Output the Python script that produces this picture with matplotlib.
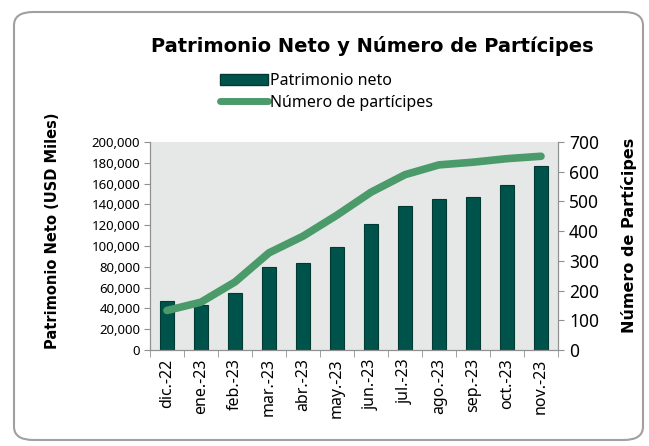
import matplotlib
matplotlib.use("Agg")
import matplotlib.pyplot as plt
from matplotlib.patches import FancyBboxPatch
from matplotlib.ticker import FuncFormatter, MultipleLocator
from matplotlib.lines import Line2D
from matplotlib.patches import Patch
import numpy as np

categories = ["dic.-22", "ene.-23", "feb.-23", "mar.-23", "abr.-23", "may.-23",
              "jun.-23", "jul.-23", "ago.-23", "sep.-23", "oct.-23", "nov.-23"]
patrimonio = [47000, 43200, 55000, 80200, 83700, 99500, 120800, 138800, 145600, 147500, 158500, 176500]
participes = [133, 161, 229, 327, 383, 454, 531, 590, 623, 632, 644, 652]

bar_color = "#00534a"
line_color = "#4a9a6a"
font = "Noto Sans"
bold_font = "DejaVu Sans"

fig = plt.figure(figsize=(6.49, 4.46), dpi=100)
fig.patch.set_facecolor("white")

border = FancyBboxPatch((14/649, 6/446), 629/649, 428/446,
                        boxstyle="round,pad=0,rounding_size=0.03",
                        transform=fig.transFigure, facecolor="none",
                        edgecolor="#a0a0a0", linewidth=1.5, zorder=-10)
fig.patches.append(border)

ax = fig.add_axes([150/649, 1 - 350/446, 408/649, 208/446])
ax.set_facecolor("#e6e8e7")
x = np.arange(len(categories))
ax.bar(x, patrimonio, width=0.43, color=bar_color, edgecolor="#003a33", linewidth=0.8, zorder=2)
ax.set_xlim(-0.5, len(categories) - 0.5)
ax.set_ylim(0, 200000)
ax.yaxis.set_major_locator(MultipleLocator(20000))
ax.yaxis.set_major_formatter(FuncFormatter(lambda v, p: f"{int(v):,}"))
ax.set_xticks(x)
ax.set_xticklabels(categories, rotation=90, fontsize=11.5, family=font)
ax.tick_params(axis="x", length=0, pad=6)
ax.set_xticks(np.arange(-0.5, len(categories)), minor=True)
ax.tick_params(axis="x", which="minor", length=5, color="#909090", direction="out")
ax.tick_params(axis="y", labelsize=9.5, length=4, color="#909090", pad=3)
for lab in ax.get_yticklabels():
    lab.set_family(font)
for s in ["left", "bottom", "right"]:
    ax.spines[s].set_color("#909090")
ax.spines["top"].set_visible(False)
ax.set_ylabel("Patrimonio Neto (USD Miles)", fontsize=10.5, fontweight="bold", family=bold_font, labelpad=23)
ax.yaxis.label.set_y(0.571)

ax2 = ax.twinx()
ax2.plot(x, participes, color=line_color, linewidth=5.5, solid_capstyle="round", zorder=3)
ax2.set_ylim(0, 700)
ax2.yaxis.set_major_locator(MultipleLocator(100))
ax2.tick_params(axis="y", labelsize=12.5, length=4, color="#909090", pad=4)
for lab in ax2.get_yticklabels():
    lab.set_family(font)
for s in ["left", "bottom", "right"]:
    ax2.spines[s].set_color("#909090")
ax2.spines["top"].set_visible(False)
ax2.set_ylabel("Número de Partícipes", fontsize=11.5, fontweight="bold", family=bold_font, labelpad=16)
ax2.yaxis.label.set_y(0.552)

fig.text(372/649, 1 - 46/446, "Patrimonio Neto y Número de Partícipes", ha="center", va="center",
         fontsize=14, fontweight="bold", family=bold_font)

handles = [Patch(facecolor=bar_color, edgecolor="#003a33"),
           Line2D([0], [0], color=line_color, linewidth=5, solid_capstyle="round")]
fig.legend(handles, ["Patrimonio neto", "Número de partícipes"], loc="center left",
           bbox_to_anchor=(212/649, 1 - 92/446), frameon=False,
           prop={"family": font, "size": 11.5}, handlelength=3.0, handletextpad=0.1,
           labelspacing=0.35, borderpad=0)

fig.savefig("out.png", dpi=100)
